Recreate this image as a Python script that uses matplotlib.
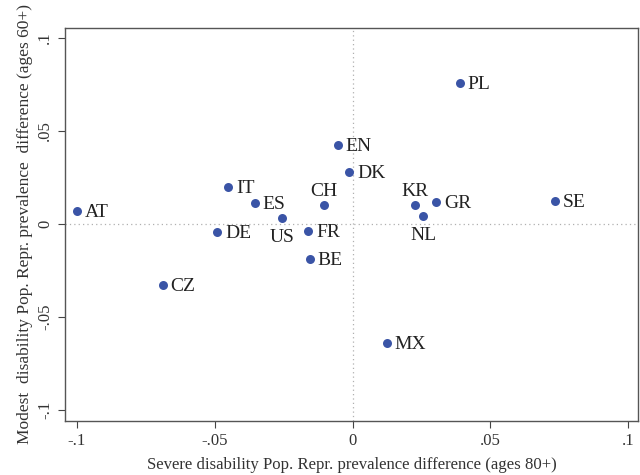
import matplotlib
matplotlib.use("Agg")
import matplotlib.pyplot as plt

# country codes, x = severe disability diff (80+), y = modest disability diff (60+)
countries = ["AT", "IT", "ES", "US", "CH", "EN", "DK", "DE", "FR", "BE",
             "CZ", "MX", "PL", "KR", "GR", "NL", "SE"]
severe = [-0.100, -0.045, -0.0355, -0.0255, -0.0103, -0.0052, -0.0012, -0.049, -0.016, -0.0155,
          -0.0688, 0.0123, 0.0388, 0.0225, 0.0303, 0.0256, 0.0735]
modest = [0.0068, 0.0198, 0.0110, 0.0029, 0.0100, 0.0425, 0.0278, -0.0045, -0.0040, -0.0190,
          -0.0330, -0.0643, 0.0755, 0.0100, 0.0118, 0.0040, 0.0120]
# label placement: r = right, b = below, t = above
label_pos = ["r", "r", "r", "b", "t", "r", "r", "r", "r", "r",
             "r", "r", "r", "t", "r", "b", "r"]

xticks = [-0.1, -0.05, 0, 0.05, 0.1]
yticks = [-0.1, -0.05, 0, 0.05, 0.1]
tick_labels = ["-.1", "-.05", "0", ".05", ".1"]

plt.rcParams["font.family"] = ["Liberation Serif", "DejaVu Serif"]

fig = plt.figure(figsize=(6.4, 4.75), dpi=100)
ax = fig.add_axes([0.1023, 0.1147, 0.8938, 0.8274])

ax.axvline(0, color="#b0b0b0", lw=0.9, ls=(0, (1, 2.5)), zorder=1)
ax.axhline(0, color="#b0b0b0", lw=0.9, ls=(0, (1, 2.5)), zorder=1)

ax.scatter(severe, modest, s=42, color="#3a54a6", zorder=3, linewidths=0)

offsets = {"r": ((5.5, -1), "left", "center"),
           "b": ((0, -14), "center", "center"),
           "t": ((0, 10), "center", "center")}
for name, x, y, p in zip(countries, severe, modest, label_pos):
    off, ha, va = offsets[p]
    ax.annotate(name, (x, y), xytext=off, textcoords="offset points",
                ha=ha, va=va, fontsize=14, color="#222222")

ax.set_xlim(-0.1041, 0.1033)
ax.set_ylim(-0.1058, 0.1055)
ax.set_xticks(xticks)
ax.set_xticklabels(tick_labels)
ax.set_yticks(yticks)
ax.set_yticklabels(tick_labels, rotation=90, va="center")
ax.tick_params(direction="out", length=5, width=0.8, color="#444444",
               labelsize=12, labelcolor="#333333", pad=4)

for s in ax.spines.values():
    s.set_color("#555555")
    s.set_linewidth(1.0)

ax.set_xlabel("Severe disability Pop. Repr. prevalence difference (ages 80+)",
              fontsize=12.1, color="#333333", labelpad=6)
ax.set_ylabel("Modest  disability Pop. Repr. prevalence  difference (ages 60+)",
              fontsize=12.5, color="#333333", labelpad=3)

fig.savefig("out.png", dpi=100)
